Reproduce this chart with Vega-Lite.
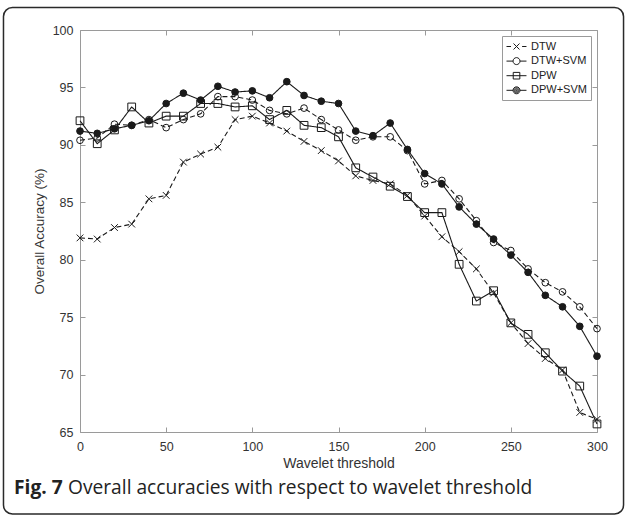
{
  "$schema": "https://vega.github.io/schema/vega-lite/v6.json",
  "width": 517,
  "height": 402,
  "autosize": {"type": "none"},
  "padding": {"left": 80, "top": 30, "right": 30, "bottom": 85},
  "background": "white",
  "config": {"view": {"stroke": null}, "font": "Liberation Sans"},
  "datasets": {
    "acc": [
      {"t": 0, "DTW": 81.9, "DTW+SVM": 90.4, "DPW": 92.1, "DPW+SVM": 91.2},
      {"t": 10, "DTW": 81.8, "DTW+SVM": 90.6, "DPW": 90.1, "DPW+SVM": 91.0},
      {"t": 20, "DTW": 82.8, "DTW+SVM": 91.8, "DPW": 91.3, "DPW+SVM": 91.4},
      {"t": 30, "DTW": 83.1, "DTW+SVM": 91.7, "DPW": 93.3, "DPW+SVM": 91.7},
      {"t": 40, "DTW": 85.3, "DTW+SVM": 92.2, "DPW": 91.9, "DPW+SVM": 92.1},
      {"t": 50, "DTW": 85.6, "DTW+SVM": 91.5, "DPW": 92.5, "DPW+SVM": 93.6},
      {"t": 60, "DTW": 88.5, "DTW+SVM": 92.2, "DPW": 92.5, "DPW+SVM": 94.5},
      {"t": 70, "DTW": 89.2, "DTW+SVM": 92.7, "DPW": 93.6, "DPW+SVM": 93.9},
      {"t": 80, "DTW": 89.8, "DTW+SVM": 94.2, "DPW": 93.6, "DPW+SVM": 95.1},
      {"t": 90, "DTW": 92.2, "DTW+SVM": 94.2, "DPW": 93.3, "DPW+SVM": 94.6},
      {"t": 100, "DTW": 92.5, "DTW+SVM": 93.9, "DPW": 93.4, "DPW+SVM": 94.7},
      {"t": 110, "DTW": 91.9, "DTW+SVM": 93.0, "DPW": 92.2, "DPW+SVM": 94.1},
      {"t": 120, "DTW": 91.2, "DTW+SVM": 92.7, "DPW": 93.0, "DPW+SVM": 95.5},
      {"t": 130, "DTW": 90.3, "DTW+SVM": 93.2, "DPW": 91.7, "DPW+SVM": 94.3},
      {"t": 140, "DTW": 89.5, "DTW+SVM": 92.2, "DPW": 91.5, "DPW+SVM": 93.8},
      {"t": 150, "DTW": 88.6, "DTW+SVM": 91.3, "DPW": 90.7, "DPW+SVM": 93.6},
      {"t": 160, "DTW": 87.3, "DTW+SVM": 90.4, "DPW": 88.0, "DPW+SVM": 91.2},
      {"t": 170, "DTW": 86.9, "DTW+SVM": 90.7, "DPW": 87.2, "DPW+SVM": 90.8},
      {"t": 180, "DTW": 86.6, "DTW+SVM": 90.7, "DPW": 86.4, "DPW+SVM": 91.9},
      {"t": 190, "DTW": 85.6, "DTW+SVM": 89.5, "DPW": 85.5, "DPW+SVM": 89.6},
      {"t": 200, "DTW": 83.8, "DTW+SVM": 86.6, "DPW": 84.1, "DPW+SVM": 87.5},
      {"t": 210, "DTW": 82.0, "DTW+SVM": 86.9, "DPW": 84.1, "DPW+SVM": 86.6},
      {"t": 220, "DTW": 80.7, "DTW+SVM": 85.3, "DPW": 79.6, "DPW+SVM": 84.6},
      {"t": 230, "DTW": 79.2, "DTW+SVM": 83.4, "DPW": 76.4, "DPW+SVM": 83.1},
      {"t": 240, "DTW": 77.1, "DTW+SVM": 81.5, "DPW": 77.3, "DPW+SVM": 81.8},
      {"t": 250, "DTW": 74.5, "DTW+SVM": 80.8, "DPW": 74.5, "DPW+SVM": 80.4},
      {"t": 260, "DTW": 72.7, "DTW+SVM": 79.2, "DPW": 73.5, "DPW+SVM": 78.9},
      {"t": 270, "DTW": 71.4, "DTW+SVM": 78.0, "DPW": 71.9, "DPW+SVM": 76.9},
      {"t": 280, "DTW": 70.4, "DTW+SVM": 77.2, "DPW": 70.3, "DPW+SVM": 75.9},
      {"t": 290, "DTW": 66.7, "DTW+SVM": 75.9, "DPW": 69.0, "DPW+SVM": 74.2},
      {"t": 300, "DTW": 66.1, "DTW+SVM": 74.0, "DPW": 65.7, "DPW+SVM": 71.6}
    ]
  },
  "resolve": {"axis": {"x": "independent", "y": "independent"}},
  "layer": [
    {
      "data": {"values": [{"frame": "figure"}]},
      "mark": {"type": "rect", "fill": "transparent", "stroke": "#2a2a2a", "strokeWidth": 1.5, "cornerRadius": 9},
      "encoding": {
        "x": {"datum": -44.4, "type": "quantitative", "scale": {"domain": [0, 300], "nice": false}, "axis": null},
        "x2": {"datum": 315.4},
        "y": {"datum": 101.96, "type": "quantitative", "scale": {"domain": [65, 100], "nice": false, "zero": false}, "axis": null},
        "y2": {"datum": 57.86}
      }
    },
    {
      "data": {"values": [{"caption": "Fig. 7"}]},
      "mark": {"type": "text", "align": "left", "baseline": "middle", "font": "Open Sans", "fontSize": 19.2, "fontWeight": "bold", "color": "#222"},
      "encoding": {
        "text": {"field": "caption"},
        "x": {"datum": -38.3, "type": "quantitative", "scale": {"domain": [0, 300], "nice": false}, "axis": null},
        "y": {"datum": 60.13, "type": "quantitative", "scale": {"domain": [65, 100], "nice": false, "zero": false}, "axis": null}
      }
    },
    {
      "data": {"values": [{"caption": "Overall accuracies with respect to wavelet threshold"}]},
      "mark": {"type": "text", "align": "left", "baseline": "middle", "font": "Open Sans", "fontSize": 19.2, "fontWeight": "normal", "color": "#222", "dx": 54},
      "encoding": {
        "text": {"field": "caption"},
        "x": {"datum": -38.3, "type": "quantitative", "scale": {"domain": [0, 300], "nice": false}, "axis": null},
        "y": {"datum": 60.13, "type": "quantitative", "scale": {"domain": [65, 100], "nice": false, "zero": false}, "axis": null}
      }
    },
    {
      "data": {"name": "acc"},
      "transform": [{"fold": ["DTW", "DTW+SVM", "DPW", "DPW+SVM"], "as": ["method", "acc"]}],
      "mark": {"type": "line", "color": "#1a1a1a", "strokeWidth": 1.1},
      "encoding": {
        "x": {
          "field": "t", "type": "quantitative",
          "scale": {"domain": [0, 300], "nice": false},
          "axis": {
            "orient": "bottom", "values": [0, 50, 100, 150, 200, 250, 300], "grid": false,
            "tickSize": -5, "labelPadding": 13, "domainColor": "#9a9a9a", "tickColor": "#9a9a9a",
            "labelFont": "Liberation Sans", "labelFontSize": 12.5, "labelColor": "#333", "labelFlush": false,
            "title": "Wavelet threshold", "titleFont": "Liberation Sans", "titleFontSize": 14,
            "titleFontWeight": "normal", "titleColor": "#333", "titlePadding": 4
          }
        },
        "y": {
          "field": "acc", "type": "quantitative",
          "scale": {"domain": [65, 100], "nice": false, "zero": false},
          "axis": {
            "orient": "left", "values": [65, 70, 75, 80, 85, 90, 95, 100], "grid": false,
            "tickSize": -5, "labelPadding": 12, "domainColor": "#9a9a9a", "tickColor": "#9a9a9a",
            "labelFont": "Liberation Sans", "labelFontSize": 12.5, "labelColor": "#333", "labelFlush": false,
            "title": "Overall Accuracy (%)", "titleFont": "Liberation Sans", "titleFontSize": 13.5,
            "titleFontWeight": "normal", "titleColor": "#333", "titlePadding": 6
          }
        },
        "detail": {"field": "method", "type": "nominal"},
        "strokeDash": {
          "condition": {"test": "datum.method === 'DTW' || datum.method === 'DTW+SVM'", "value": [5, 3]},
          "value": [1, 0]
        }
      }
    },
    {
      "data": {"name": "acc"},
      "transform": [{"fold": ["DTW", "DTW+SVM", "DPW", "DPW+SVM"], "as": ["method", "acc"]}],
      "mark": {"type": "point", "filled": true, "stroke": "#1a1a1a", "strokeWidth": 1, "opacity": 1},
      "encoding": {
        "x": {
          "field": "t", "type": "quantitative",
          "scale": {"domain": [0, 300], "nice": false},
          "axis": {
            "orient": "top", "values": [0, 50, 100, 150, 200, 250, 300], "grid": false, "labels": false,
            "tickSize": -5, "domainColor": "#9a9a9a", "tickColor": "#9a9a9a", "title": null
          }
        },
        "y": {
          "field": "acc", "type": "quantitative",
          "scale": {"domain": [65, 100], "nice": false, "zero": false},
          "axis": {
            "orient": "right", "values": [65, 70, 75, 80, 85, 90, 95, 100], "grid": false, "labels": false,
            "tickSize": -5, "domainColor": "#9a9a9a", "tickColor": "#9a9a9a", "title": null
          }
        },
        "shape": {
          "condition": [
            {"test": "datum.method === 'DTW'", "value": "M-1,-1L1,1M-1,1L1,-1"},
            {"test": "datum.method === 'DPW'", "value": "square"}
          ],
          "value": "circle"
        },
        "fill": {
          "condition": {"test": "datum.method === 'DPW+SVM'", "value": "#1a1a1a"},
          "value": "transparent"
        },
        "size": {
          "condition": {"test": "datum.method === 'DPW'", "value": 60},
          "value": 45
        }
      }
    },
    {
      "data": {"name": "acc"},
      "transform": [
        {"fold": ["DTW", "DTW+SVM", "DPW", "DPW+SVM"], "as": ["method", "acc"]},
        {"filter": "false"}
      ],
      "mark": {"type": "point", "filled": true, "stroke": "#1a1a1a", "strokeWidth": 1, "opacity": 1},
      "encoding": {
        "fill": {
          "condition": {"test": "datum.method === 'DPW+SVM'", "value": "#1a1a1a"},
          "value": "transparent"
        },
        "shape": {
          "field": "method", "type": "nominal",
          "scale": {
            "domain": ["DTW", "DTW+SVM", "DPW", "DPW+SVM"],
            "range": [
              "M-1,0H-0.25M1.6,0H2.33M0.17,-0.5L1.17,0.5M0.17,0.5L1.17,-0.5",
              "M-1,0H0.09M1.25,0H2.33M1.25,0A0.58,0.58 0 1,1 0.09,0A0.58,0.58 0 1,1 1.25,0Z",
              "M-1,0H2.33M0.12,-0.55H1.22V0.55H0.12Z",
              "M-1,0H0.09M1.25,0H2.33M1.25,0A0.58,0.58 0 1,1 0.09,0A0.58,0.58 0 1,1 1.25,0ZM1.09,0A0.42,0.42 0 1,1 0.25,0A0.42,0.42 0 1,1 1.09,0ZM0.92,0A0.25,0.25 0 1,1 0.42,0A0.25,0.25 0 1,1 0.92,0ZM0.75,0A0.08,0.08 0 1,1 0.59,0A0.08,0.08 0 1,1 0.75,0Z"
            ]
          },
          "legend": {
            "title": null, "orient": "top-right", "offset": 6, "padding": 4,
            "strokeColor": "#9a9a9a", "fillColor": "white",
            "labelFont": "Liberation Sans", "labelFontSize": 11, "labelColor": "#222",
            "labelOffset": 12, "rowPadding": 2.6, "symbolSize": 144, "symbolOffset": 0,
            "symbolStrokeWidth": 1, "symbolStrokeColor": "#1a1a1a"
          }
        }
      }
    }
  ]
}
